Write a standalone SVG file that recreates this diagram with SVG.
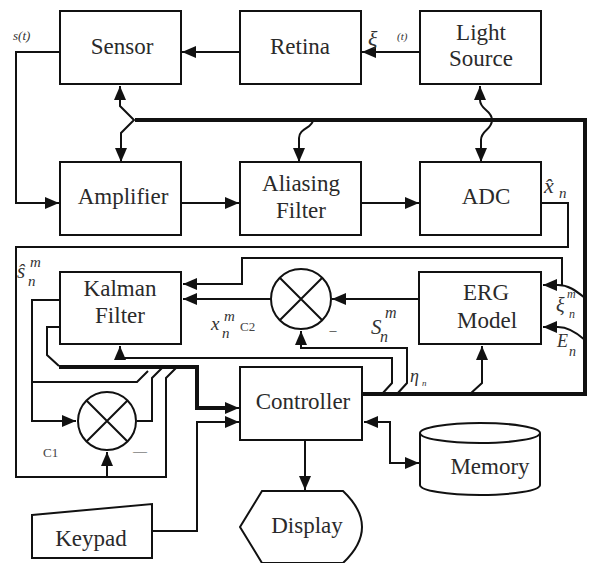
<svg xmlns="http://www.w3.org/2000/svg" width="598" height="563" viewBox="0 0 598 563" font-family="Liberation Serif, DejaVu Serif, serif">
<defs>
<marker id="arr" markerUnits="userSpaceOnUse" markerWidth="15" markerHeight="12" refX="14" refY="6" orient="auto-start-reverse">
<path d="M0,0 L14,6 L0,12 z" fill="#111"/>
</marker>
<style>
.box{fill:#fff;stroke:#111;stroke-width:2}
.ln{fill:none;stroke:#111;stroke-width:2}
.thk{fill:none;stroke:#111;stroke-width:4}
.t{font-size:23px;fill:#2a2a2a;text-anchor:middle}
.m{font-style:italic;fill:#333}
.s{fill:#444}
</style>
</defs>
<rect width="598" height="563" fill="#fff"/>

<g id="connectors">
<path class="thk" d="M135,120 L585,120 L585,394 L362,394"/>
<path class="ln" d="M120,86 L120,106 L134,120 L121,133 L121,162" marker-start="url(#arr)" marker-end="url(#arr)"/>
<path class="ln" d="M313,120 C313,128 299,128 299,138 L299,162" marker-end="url(#arr)"/>
<path class="ln" d="M480,86 L480,100 C480,110 492,110 492,120 C492,130 481,130 481,140 L481,162" marker-start="url(#arr)" marker-end="url(#arr)"/>
<path class="ln" d="M420,52 L362,52" marker-end="url(#arr)"/>
<path class="ln" d="M240,52 L182,52" marker-end="url(#arr)"/>
<path class="ln" d="M60,52 L16,52 L16,203 L59,203" marker-end="url(#arr)"/>
<path class="ln" d="M181,203 L239,203" marker-end="url(#arr)"/>
<path class="ln" d="M361,203 L419,203" marker-end="url(#arr)"/>
<path class="ln" d="M541,203 L568,203 L568,247 L16,247 L16,477 L166,477 L166,378 L176,368"/>
<path class="ln" d="M107,477 L107,452" marker-end="url(#arr)"/>
<path class="ln" d="M585,298 C575,290 568,285 558,285 L543,285" marker-end="url(#arr)"/>
<path class="ln" d="M562,285 L562,258 L242,258 L242,284 L183,284" marker-end="url(#arr)"/>
<path class="ln" d="M585,340 C576,332 568,327 558,327 L543,327" marker-end="url(#arr)"/>
<path class="ln" d="M271,299 L183,299" marker-end="url(#arr)"/>
<path class="ln" d="M419,299 L332,299" marker-end="url(#arr)"/>
<path class="ln" d="M397,394 L407,383 L407,348 L301,348 L301,331" marker-end="url(#arr)"/>
<path class="ln" d="M382,394 L392,383 L392,358 L120,358 L120,346" marker-end="url(#arr)"/>
<path class="ln" d="M470,394 L482,383 L482,346" marker-end="url(#arr)"/>
<path class="ln" d="M60,300 L32,300 L32,421 L76,421" marker-end="url(#arr)"/>
<path class="ln" d="M32,382 L137,382 L148,371"/>
<path class="ln" d="M137,421 L152,421 L152,378 L162,368"/>
<path class="ln" d="M60,327 L47,327 L47,355 L59,366"/>
<path class="thk" d="M59,367 L197,367 L197,408 L226,408"/>
<path class="ln" d="M224,408 L239,408" marker-end="url(#arr)"/>
<path class="ln" d="M152,531 L197,531 L197,422 L239,422" marker-end="url(#arr)"/>
<path class="ln" d="M364,422 L390,422 L390,463 L419,463" marker-start="url(#arr)" marker-end="url(#arr)"/>
<path class="ln" d="M305,440 L305,490" marker-end="url(#arr)"/>
</g>

<g id="sensor"><rect class="box" x="60" y="11" width="121" height="73"/><text class="t" x="122" y="54">Sensor</text></g>
<g id="retina"><rect class="box" x="240" y="11" width="121" height="73"/><text class="t" x="300" y="54">Retina</text></g>
<g id="light-source"><rect class="box" x="420" y="11" width="121" height="73"/><text class="t" x="481" y="40">Light</text><text class="t" x="481" y="66">Source</text></g>
<g id="amplifier"><rect class="box" x="60" y="162" width="121" height="73"/><text class="t" x="123" y="204">Amplifier</text></g>
<g id="aliasing-filter"><rect class="box" x="240" y="162" width="121" height="73"/><text class="t" x="301" y="191">Aliasing</text><text class="t" x="301" y="218">Filter</text></g>
<g id="adc"><rect class="box" x="420" y="162" width="121" height="73"/><text class="t" x="486" y="204">ADC</text></g>
<g id="kalman-filter"><rect class="box" x="60" y="272" width="121" height="72"/><text class="t" x="120" y="296">Kalman</text><text class="t" x="120" y="323">Filter</text></g>
<g id="c2">
<circle class="box" cx="301" cy="299" r="30"/>
<path class="ln" d="M280,278 L322,320 M322,278 L280,320"/>
</g>
<g id="erg-model"><rect class="box" x="419" y="272" width="122" height="72"/><text class="t" x="486" y="300">ERG</text><text class="t" x="487" y="328">Model</text></g>
<g id="controller"><rect class="box" x="240" y="367" width="122" height="73"/><text class="t" x="303" y="409">Controller</text></g>
<g id="c1">
<circle class="box" cx="107" cy="421" r="29"/>
<path class="ln" d="M86.5,400.5 L127.5,441.5 M127.5,400.5 L86.5,441.5"/>
</g>
<g id="memory">
<path class="box" d="M420,433 L420,485 A60,10 0 0 0 540,485 L540,433"/>
<ellipse class="box" cx="480" cy="433" rx="60" ry="10"/>
<text class="t" x="490" y="474">Memory</text>
</g>
<g id="display"><path class="box" d="M262,491 L343,491 Q381,527 343,563 L262,563 L240,527 Z"/><text class="t" x="307" y="533">Display</text></g>
<g id="keypad"><path class="box" d="M32,515 L152,504 L152,558 L32,558 Z"/><text class="t" x="91" y="546">Keypad</text></g>

<g id="labels">
<text class="m" x="13" y="40" font-size="13">s(t)</text>
<text class="m" x="368" y="46" font-size="22">ξ</text>
<text class="m" x="397" y="40" font-size="11">(t)</text>
<text class="m" x="544" y="193" font-size="22">x̂</text>
<text class="m" x="559" y="198" font-size="15">n</text>
<text class="m" x="17" y="278" font-size="21">ŝ</text>
<text class="m" x="30" y="267" font-size="15">m</text>
<text class="m" x="28" y="286" font-size="15">n</text>
<text class="m" x="211" y="330" font-size="19">x</text>
<text class="m" x="224" y="321" font-size="15">m</text>
<text class="m" x="222" y="338" font-size="15">n</text>
<text class="s" x="240" y="331" font-size="13">C2</text>
<text class="s" x="333" y="335" font-size="14" text-anchor="middle">–</text>
<text class="m" x="371" y="334" font-size="21">S</text>
<text class="m" x="385" y="318" font-size="16">m</text>
<text class="m" x="380" y="342" font-size="16">n</text>
<text class="m" x="556" y="312" font-size="20">ξ</text>
<text class="m" x="567" y="298" font-size="12">m</text>
<text class="m" x="569" y="318" font-size="12">n</text>
<text class="m" x="557" y="347" font-size="18">E</text>
<text class="m" x="569" y="356" font-size="14">n</text>
<text class="m" x="410" y="382" font-size="18">η</text>
<text class="m" x="422" y="386" font-size="9">n</text>
<text class="s" x="43" y="457" font-size="13">C1</text>
<text class="s" x="140" y="456" font-size="14" text-anchor="middle">—</text>
</g>
</svg>
